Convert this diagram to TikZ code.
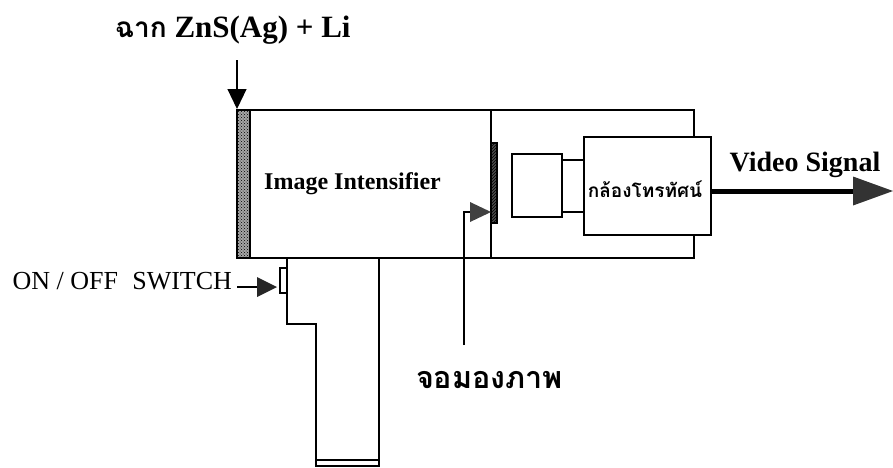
\documentclass[tikz,border=0pt]{standalone}
\usepackage{fontspec}
\setmainfont{Liberation Serif}
\newfontfamily\thaifont[Script=Thai]{Loma}
\usetikzlibrary{arrows.meta,patterns,calc}
\tikzset{
  line/.style={draw=black,line width=1.1pt},
  boxn/.style={line,fill=white,inner sep=0pt,outer sep=0pt,anchor=north west},
  txt/.style={inner sep=0pt,outer sep=0pt,text=black},
  blabel/.style={txt,font=\bfseries\fontsize{24}{28}\selectfont},
  thin arrow/.style={line,-{Triangle[length=20pt,width=19pt]}},
  small arrow/.style={line,-{Triangle[length=20pt,width=20pt,line width=0pt,fill=black!85]}},
  video arrow/.style={draw=black,line width=5pt,-{Triangle[length=40pt,width=29pt,line width=0pt,fill=black!80]}},
  stipple/.style={line,pattern=crosshatch dots,pattern color=black},
}
\begin{document}
\begin{tikzpicture}[x=1pt,y=-1pt]
\useasboundingbox (0,0) rectangle (893,467);
% handle
\coordinate (h1) at (287,258); \coordinate (h2) at (287,324); \coordinate (h3) at (316,324);
\coordinate (h4) at (316,466); \coordinate (h5) at (379,466); \coordinate (h6) at (379,258);
\draw[line] (h1) -- (h2) -- (h3) -- (h4) -- (h5) -- (h6);
\draw[line] (316,460) -- (379,460);
% body
\coordinate (b1) at (694,137); \coordinate (b2) at (694,110); \coordinate (b3) at (237,110);
\coordinate (b4) at (237,258); \coordinate (b5) at (694,258); \coordinate (b6) at (694,235);
\draw[line] (b1) -- (b2) -- (b3) -- (b4) -- (b5) -- (b6);
\draw[line] (491,110) -- (491,258);
% input screen
\fill[black!35] (237,110) rectangle (250,258);
\draw[stipple] (237,110) rectangle (250,258);
% output phosphor
\fill[black!70] (491,143) rectangle (497,223);
\draw[line,pattern=north east lines,pattern color=black] (491,143) rectangle (497,223);
% camera and lens
\node[boxn,minimum width=127pt,minimum height=98pt] (cam) at (584,137) {};
\node[boxn,minimum width=50pt,minimum height=63pt] (lens) at (512,154) {};
\coordinate (l1) at (562,160); \coordinate (c1) at (584,160);
\coordinate (l2) at (562,212); \coordinate (c2) at (584,212);
\draw[line] (l1) -- (c1); \draw[line] (l2) -- (c2);
\node[txt,font=\thaifont\bfseries\fontsize{19}{22}\selectfont] (camlabel) at (645,189) {กล้องโทรทัศน์};
% switch
\node[boxn,minimum width=7pt,minimum height=25pt] (sw) at (280,268) {};
\node[txt,font=\fontsize{26}{30}\selectfont,anchor=east] (swlabel) at (232,281) {ON / OFF\hspace{0.3em} SWITCH};
\coordinate (swfrom) at (237,287);
\draw[small arrow] (swfrom) -- (277,287);
% labels
\node[blabel,anchor=west,font=\bfseries\fontsize{31}{36}\selectfont] (title) at (115,30) {{\thaifont\fontsize{28}{32}\selectfont ฉาก} ZnS(Ag) + Li};
\node[blabel] (ii) at (352.5,184) {Image Intensifier};
\node[blabel,font=\bfseries\fontsize{28}{32}\selectfont] (vid) at (805,165) {Video Signal};
\node[txt,font=\thaifont\bfseries\fontsize{30.5}{34}\selectfont] (view) at (489.5,380) {จอมองภาพ};
% arrows
\coordinate (in0) at (237,60); \coordinate (in1) at (237,109);
\draw[thin arrow] (in0) -- (in1);
\coordinate (p0) at (464,345); \coordinate (p1) at (464,212); \coordinate (p2) at (491,212);
\draw[line,-{Triangle[length=21pt,width=20pt,line width=0pt,fill=black!75]}] (p0) -- (p1) -- (p2);
\coordinate (v1) at (893,191);
\draw[video arrow] (cam.east |- 0,191) -- (v1);
\end{tikzpicture}
\end{document}
